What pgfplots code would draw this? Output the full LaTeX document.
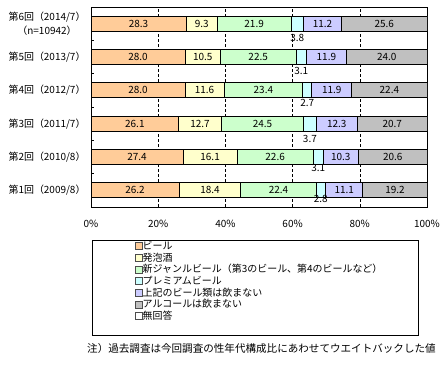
\documentclass[border=0pt]{standalone}
\usepackage{fontspec}
\setmainfont{Noto Sans CJK JP}
\usepackage{pgfplots}
\usepackage{pgfplotstable}
\pgfplotsset{compat=1.18}
\pgfkeys{/pgf/number format/assume math mode=true}
\definecolor{cBeer}{HTML}{FFCC99}
\definecolor{cHappo}{HTML}{FFFFCC}
\definecolor{cShin}{HTML}{CCFFCC}
\definecolor{cPrem}{HTML}{CCFFFF}
\definecolor{cNomi}{HTML}{CCCCFF}
\definecolor{cAlc}{HTML}{C0C0C0}

\pgfplotstableread{
y beer happo shin prem nomi alc na ly
0 26.2 18.4 22.4 2.8 11.1 19.2 0 0.27
1 27.4 16.1 22.6 3.1 10.3 20.6 0 0.32
2 26.1 12.7 24.5 3.7 12.3 20.7 0 0.45
3 28.0 11.6 23.4 2.7 11.9 22.4 0 0.39
4 28.0 10.5 22.5 3.1 11.9 24.0 0 0.42
5 28.3 9.3 21.9 3.8 11.2 25.6 0 0.42
}\data
\pgfplotstablecreatecol[create col/expr={\thisrow{beer}/2}]{c1}\data
\pgfplotstablecreatecol[create col/expr={\thisrow{beer}+\thisrow{happo}/2}]{c2}\data
\pgfplotstablecreatecol[create col/expr={\thisrow{beer}+\thisrow{happo}+\thisrow{shin}/2}]{c3}\data
\pgfplotstablecreatecol[create col/expr={\thisrow{beer}+\thisrow{happo}+\thisrow{shin}+\thisrow{prem}/2}]{c4}\data
\pgfplotstablecreatecol[create col/expr={\thisrow{beer}+\thisrow{happo}+\thisrow{shin}+\thisrow{prem}+\thisrow{nomi}/2}]{c5}\data
\pgfplotstablecreatecol[create col/expr={\thisrow{beer}+\thisrow{happo}+\thisrow{shin}+\thisrow{prem}+\thisrow{nomi}+\thisrow{alc}/2}]{c6}\data
\pgfplotstablecreatecol[create col/expr={\thisrow{y}-\thisrow{ly}}]{yl}\data

\begin{document}
\begin{tikzpicture}
\path[use as bounding box] (0,0) rectangle (448bp,370bp);
\pgfplotsset{
  base/.style={at={(91bp,163bp)}, anchor=south west, scale only axis,
    width=336bp, height=200bp, xmin=0, xmax=100, ymin=-0.5, ymax=5.5},
  mybar/.style={fill=#1, draw=black, line width=0.8bp,
    legend image code/.code={\draw[##1, line width=0.5bp, draw=black!70] (0bp,-3.5bp) rectangle (7bp,3.5bp);}},
}
\begin{axis}[base, xbar stacked, bar width=15bp,
  axis line style={black, line width=0.8bp},
  xtick={0,20,40,60,80,100},
  xticklabels={0\%,20\%,40\%,60\%,80\%,100\%},
  xticklabel style={font=\fontsize{10}{11}\selectfont, yshift=-10bp},
  xmajorgrids, grid style={black, dash pattern=on 3bp off 2bp, line width=0.6bp},
  major x tick style={draw=none},
  ytick={0,1,2,3,4,5},
  yticklabels={第1回（2009/8）,第2回（2010/8）,第3回（2011/7）,第4回（2012/7）,第5回（2013/7）,{第6回（2014/7）\\（n=10942）}},
  yticklabel style={font=\fontsize{10}{14}\selectfont, align=center, xshift=-2bp},
  major y tick style={draw=none},
  minor ytick={0.5,1.5,2.5,3.5,4.5},
  minor tick length=3bp, minor y tick style={black, line width=0.8bp},
  tick align=inside, ytick pos=left, xtick pos=bottom,
  legend cell align=left,
  legend style={draw=none, fill=none, at={(axis description cs:0.131,-0.165)}, anchor=north west,
    inner sep=0pt, nodes={inner sep=0pt, minimum height=11.67bp, font=\fontsize{10}{12}\selectfont},
    /tikz/every even column/.append style={column sep=2bp}},
]
\addplot[mybar=cBeer] table[x=beer,y=y]{\data}; \addlegendentry{ビール}
\addplot[mybar=cHappo] table[x=happo,y=y]{\data}; \addlegendentry{発泡酒}
\addplot[mybar=cShin] table[x=shin,y=y]{\data}; \addlegendentry{新ジャンルビール（第3のビール、第4のビールなど）}
\addplot[mybar=cPrem] table[x=prem,y=y]{\data}; \addlegendentry{プレミアムビール}
\addplot[mybar=cNomi] table[x=nomi,y=y]{\data}; \addlegendentry{上記のビール類は飲まない}
\addplot[mybar=cAlc] table[x=alc,y=y]{\data}; \addlegendentry{アルコールは飲まない}
\addlegendimage{mybar=white}
\addlegendentry{無回答}
\end{axis}
\begin{axis}[base, hide axis, point meta=explicit,
  nodes near coords={\pgfmathprintnumber[fixed,fixed zerofill,precision=1]{\pgfplotspointmeta}},
  every node near coord/.append style={anchor=center, font=\fontsize{10}{10}\selectfont, inner sep=0pt, text=black},
]
\addplot[draw=none, mark=none] table[x=c1,y=y,meta=beer]{\data};
\addplot[draw=none, mark=none] table[x=c2,y=y,meta=happo]{\data};
\addplot[draw=none, mark=none] table[x=c3,y=y,meta=shin]{\data};
\addplot[draw=none, mark=none] table[x=c4,y=yl,meta=prem]{\data};
\addplot[draw=none, mark=none] table[x=c5,y=y,meta=nomi]{\data};
\addplot[draw=none, mark=none] table[x=c6,y=y,meta=alc]{\data};
\end{axis}
\draw[black, line width=0.8bp] (92bp,130bp) rectangle (418bp,35bp);
\node[anchor=west, inner sep=0pt, font=\fontsize{10.6}{12}\selectfont] at (87bp,22bp) {注）過去調査は今回調査の性年代構成比にあわせてウエイトバックした値};
\end{tikzpicture}
\end{document}
